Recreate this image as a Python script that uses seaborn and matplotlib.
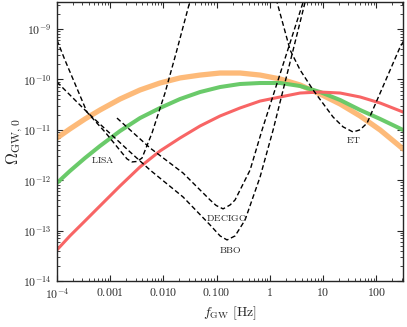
import numpy as np
import pandas as pd
import matplotlib
matplotlib.use('Agg')
import matplotlib.pyplot as plt
import seaborn as sns

# Sinais (curvas coloridas)
signal_f = [1.00e-4, 1.75e-4, 3.36e-4, 6.43e-4, 1.53e-3, 3.63e-3, 8.63e-3, 2.05e-2, 4.88e-2, 0.116,
            0.275, 0.655, 1.56, 3.70, 8.79, 20.9, 49.6, 118, 319]
orange_omega = [6.87e-12, 1.04e-11, 1.64e-11, 2.47e-11, 4.08e-11, 6.17e-11, 8.49e-11, 1.07e-10, 1.22e-10, 1.34e-10,
                1.34e-10, 1.22e-10, 1.02e-10, 7.74e-11, 5.13e-11, 3.25e-11, 1.88e-11, 9.91e-12, 4.16e-12]
green_omega = [8.79e-13, 1.52e-12, 2.75e-12, 4.77e-12, 9.46e-12, 1.71e-11, 2.71e-11, 4.08e-11, 5.62e-11, 7.06e-11,
               8.11e-11, 8.49e-11, 8.49e-11, 7.40e-11, 5.62e-11, 3.90e-11, 2.47e-11, 1.64e-11, 9.91e-12]
red_omega = [4.12e-14, 7.82e-14, 1.55e-13, 3.08e-13, 7.67e-13, 1.83e-12, 3.80e-12, 6.87e-12, 1.19e-11, 1.88e-11,
             2.71e-11, 3.72e-11, 4.48e-11, 5.37e-11, 5.62e-11, 5.37e-11, 4.48e-11, 3.40e-11, 2.25e-11]

# Curvas de sensibilidade (tracejadas)
lisa_f = [1.00e-4, 1.41e-4, 3.66e-4, 7.98e-4, 1.67e-3, 2.07e-3, 2.57e-3, 3.19e-3, 3.96e-3, 6.11e-3, 1.07e-2, 1.73e-2, 4.51e-2]
lisa_omega = [6.05e-10, 2.43e-10, 2.25e-11, 9.04e-12, 3.47e-12, 2.64e-12, 2.30e-12, 2.35e-12, 2.75e-12, 8.65e-12, 5.37e-11, 3.34e-10, 1.48e-8]

decigo_f = [1.34e-3, 5.60e-3, 2.33e-2, 7.52e-2, 9.75e-2, 0.132, 0.179, 0.222, 0.425, 0.713, 6.58]
decigo_omega = [1.71e-11, 4.36e-12, 1.39e-12, 4.05e-13, 3.15e-13, 2.69e-13, 3.22e-13, 4.05e-13, 1.59e-12, 9.91e-12, 1.48e-8]

bbo_f = [1.00e-4, 3.83e-4, 2.36e-3, 5.60e-3, 2.33e-2, 7.52e-2, 0.116, 0.157, 0.222, 0.342, 0.655, 1.15, 6.49]
bbo_omega = [8.87e-11, 2.15e-11, 3.63e-12, 1.59e-12, 4.65e-13, 1.29e-13, 7.82e-14, 6.50e-14, 7.82e-14, 1.62e-13, 1.16e-12, 9.91e-12, 1.48e-8]

et_f = [0.938, 1.36, 2.40, 3.70, 6.49, 15.4, 23.8, 36.6, 49.6, 67.1, 118, 280, 432]
et_omega = [1.48e-8, 3.44e-9, 3.83e-10, 1.54e-10, 6.17e-11, 1.79e-11, 1.14e-11, 9.04e-12, 1.0e-11, 1.36e-11, 5.37e-11, 4.40e-10, 9.55e-10]

labels = {'LISA': (7.3e-4, 2.5e-12), 'DECIGO': (0.157, 1.78e-13), 'BBO': (0.179, 4.1e-14), 'ET': (38, 6.3e-12)}

sns.set_style('ticks')
plt.rcParams['font.family'] = ['DejaVu Serif']
plt.rcParams['mathtext.fontset'] = 'cm'

fig = plt.figure(figsize=(4.07, 3.27), dpi=100)
ax = fig.add_axes([0.140, 0.141, 0.850, 0.853])

sns.lineplot(x=signal_f, y=orange_omega, ax=ax, color='#fdb36b', lw=3.8, alpha=0.9, sort=False)
sns.lineplot(x=signal_f, y=green_omega, ax=ax, color='#62c862', lw=2.9, alpha=0.95, sort=False)
sns.lineplot(x=signal_f, y=red_omega, ax=ax, color='#f86565', lw=2.2, sort=False)

for f, om in [(lisa_f, lisa_omega), (decigo_f, decigo_omega), (bbo_f, bbo_omega), (et_f, et_omega)]:
    sns.lineplot(x=f, y=om, ax=ax, color='black', lw=1.0, ls=(0, (3.5, 2)), sort=False)

for nome, (x, y) in labels.items():
    ax.text(x, y, r'$\mathrm{' + nome + '}$', fontsize=7, ha='center', va='center', color='#222222')

ax.set_xscale('log')
ax.set_yscale('log')
ax.set_xlim(1e-4, 10**2.5)
ax.set_ylim(1e-14, 3.45e-9)

ax.set_xticks([1e-4, 1e-3, 1e-2, 1e-1, 1, 10, 100])
ax.set_xticklabels([r'$10^{-4}$', r'$0.001$', r'$0.010$', r'$0.100$', r'$1$', r'$10$', r'$100$'])
ax.set_yticks([1e-14, 1e-13, 1e-12, 1e-11, 1e-10, 1e-9])
ax.set_yticklabels([r'$10^{-14}$', r'$10^{-13}$', r'$10^{-12}$', r'$10^{-11}$', r'$10^{-10}$', r'$10^{-9}$'])

ax.tick_params(which='both', direction='in', top=True, right=True, labelsize=8.5, pad=4)
ax.tick_params(which='major', length=4, width=0.8)
ax.tick_params(which='minor', length=2, width=0.6)
for s in ax.spines.values():
    s.set_linewidth(1.0)

ax.set_xlabel(r'$f_{\rm GW}\ [\mathrm{Hz}]$', fontsize=10, labelpad=2)
ax.set_ylabel(r'$\Omega_{\rm GW,0}$', fontsize=12)
ax.yaxis.set_label_coords(-0.092, 0.5)

plt.savefig('out.png', dpi=100)
